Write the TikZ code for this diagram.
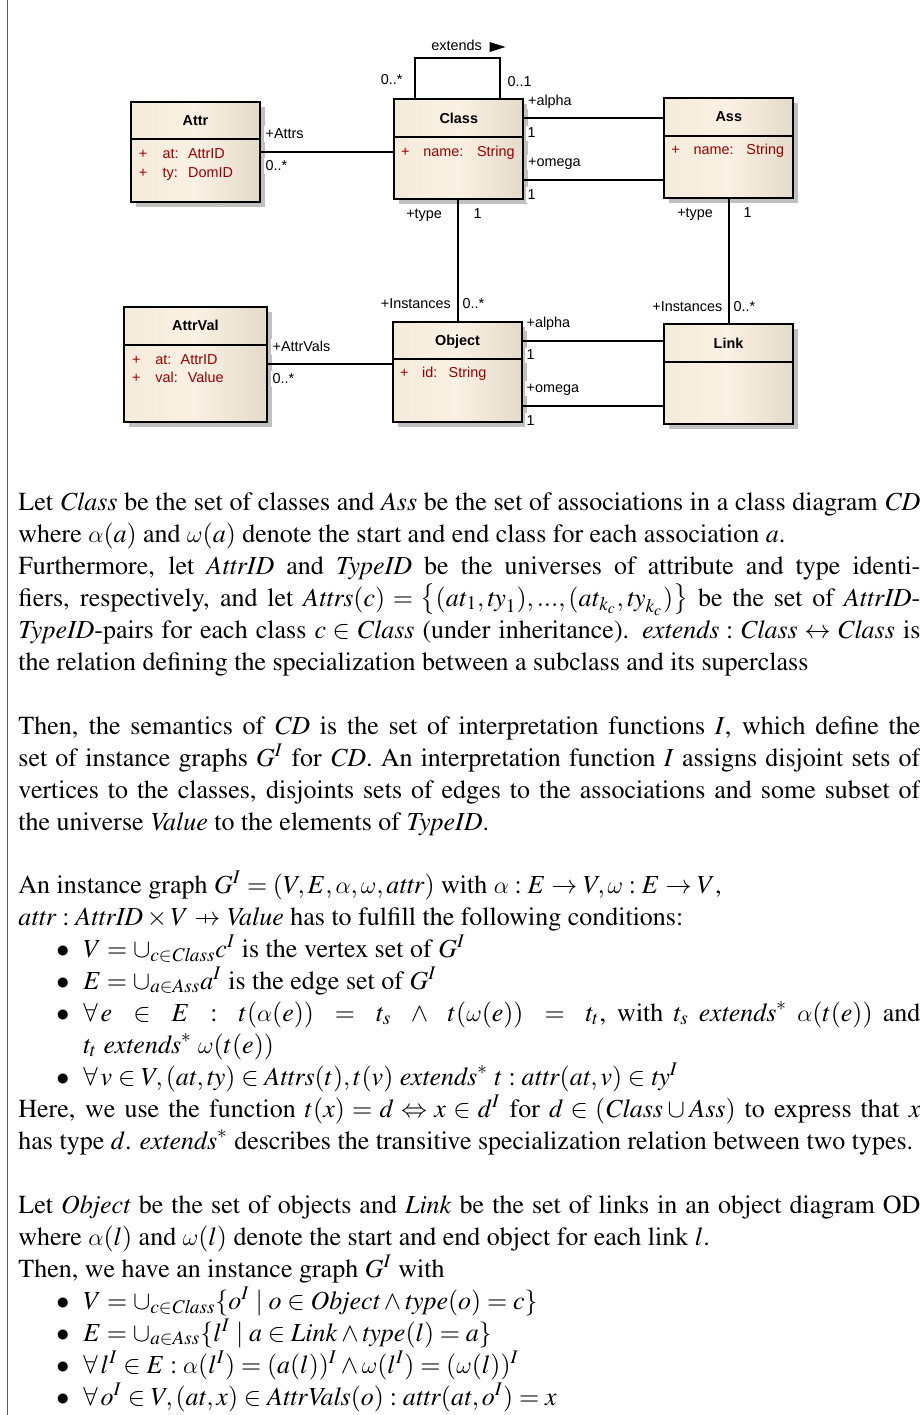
\documentclass[tikz,border=0pt]{standalone}
\usepackage[no-math]{fontspec}
\newfontfamily\umlfont{Liberation Sans}
\usepackage[T1]{fontenc}
\usepackage{mathptmx}
\usetikzlibrary{shadows}

\DeclareSymbolFont{cmletters}{OML}{cmm}{m}{it}
\DeclareMathSymbol{\alpha}{\mathord}{cmletters}{"0B}
\DeclareMathSymbol{\omega}{\mathord}{cmletters}{"21}

\definecolor{umlleft}{RGB}{245,235,219}
\definecolor{umlmid}{RGB}{250,241,228}
\definecolor{umlright}{RGB}{228,218,202}
\definecolor{umlred}{RGB}{153,0,0}
\definecolor{umlshadow}{RGB}{192,192,192}
\definecolor{bordergray}{RGB}{90,90,90}

\newlength\upx
\setlength\upx{0.5pt}
\newcommand\umlsize{\umlfont\fontsize{7.2}{8.6}\selectfont}
\newcommand\uattr[4]{\makebox[#1\upx][l]{+}\makebox[#2\upx][l]{#3}#4}
\newcommand\bitem{\par\hangindent=32.5pt\hangafter=0\noindent\llap{$\bullet$\hspace{7pt}}}
\newcommand\pfun{\mathrel{\ooalign{\hfil$\mapstochar\mkern5mu$\hfil\cr$\rightarrow$\cr}}}

\begin{document}
\begin{tikzpicture}[x=0.5pt, y=-0.5pt,
	umlbox/.style={draw, line width=1pt, inner sep=0, minimum width=64.5pt, minimum height=50pt,
		left color=umlleft, right color=umlright, middle color=umlmid,
		drop shadow={shadow xshift=2.5pt, shadow yshift=-2.5pt, fill=umlshadow, opacity=1}},
	umlline/.style={line width=1pt},
	umlname/.style={font=\umlsize\bfseries, inner sep=0, text height=5.4pt, text depth=0pt},
	umlattr/.style={anchor=west, font=\umlsize, text=umlred, inner sep=0, text height=5.4pt, text depth=0pt},
	umllabel/.style={font=\umlsize, inner sep=0.6pt, fill=white, text height=5.4pt, text depth=1.3pt},
	para/.style={anchor=base west, text width=451pt, align=justify, inner sep=0, font=\fontsize{13}{16}\selectfont}
]
\useasboundingbox (0, 0) rectangle (920, 1415);
\draw[bordergray, line width=0.8pt] (7.5, 0) -- (7.5, 1415);

% CLASSES
\node[umlbox, anchor=north west](attr) at(130, 100.7) {};
\node[umlbox, anchor=north west](cls) at(393.3, 98.3) {};
\node[umlbox, anchor=north west](ass) at(663.3, 97) {};
\node[umlbox, anchor=north west, minimum width=71.65pt, minimum height=57.35pt](attrval) at(122.7, 306) {};
\node[umlbox, anchor=north west](obj) at(392, 320.7) {};
\node[umlbox, anchor=north west](lnk) at(663, 323.3) {};

\foreach \b/\lab in{attr/Attr,cls/Class,ass/Ass,attrval/AttrVal,obj/Object,lnk/Link}{
	\draw[umlline] ([yshift=-19.25pt]\b.north west) -- ([yshift=-19.25pt]\b.north east);
	\node[umlname](\b-n) at([yshift=-9.7pt]\b.north) {\lab};
}

% ATTRIBUTES
\node[umlattr](attr-a1) at(138.5, 153.5) {\uattr{23.8}{25.4}{at:}{AttrID}};
\node[umlattr](attr-a2) at(138.5, 172.3) {\uattr{23.8}{25.4}{ty:}{DomID}};
\node[umlattr](cls-a1) at(400.7, 151) {\uattr{22.3}{53.7}{name:}{String}};
\node[umlattr](ass-a1) at(671, 149.5) {\uattr{22.3}{52.7}{name:}{String}};
\node[umlattr](attrval-a1) at(131.7, 358.7) {\uattr{23.3}{25.3}{at:}{AttrID}};
\node[umlattr](attrval-a2) at(131.7, 377) {\uattr{23.3}{32.4}{val:}{Value}};
\node[umlattr](obj-a1) at(399.7, 372.3) {\uattr{22}{26.6}{id:}{String}};

% ASSOCIATIONS
\coordinate (ca) at([yshift=-9.85pt]cls.north east);
\coordinate (co) at([yshift=-40.85pt]cls.north east);
\coordinate (oa) at([yshift=-10pt]obj.north east);
\coordinate (oo) at([yshift=-42.8pt]obj.north east);

\draw[umlline] (attr.east) -- (attr.east -| cls.west);
\draw[umlline] (ca) -- (ca -| ass.west);
\draw[umlline] (co) -- (co -| ass.west);
\draw[umlline] ([xshift=10.7pt]cls.north west) -- ++(0, -40) -| ([xshift=-12.3pt]cls.north east);
\draw[umlline] (obj.north) -- (obj.north |- cls.south);
\draw[umlline] (lnk.north) -- (lnk.north |- ass.south);
\draw[umlline] (attrval.east) -- (attrval.east -| obj.west);
\draw[umlline] (oa) -- (oa -| lnk.west);
\draw[umlline] (oo) -- (oo -| lnk.west);

% ROLES
\node[umllabel, fill=none](ext) at(456.7, 46) {extends};
\fill ([shift={(6, -4)}]ext.east) -- ++(16, 5) -- ++(-16, 5) -- cycle;

\foreach \n/\x/\y/\lab in{
	attrs/264/134/+Attrs, attrsm/264/166/0..*, exto/506/82/0..1,
	calpha/526.5/101/+alpha, calpham/526/133.5/1, comega/526.5/162.5/+omega, comegam/526/195/1,
	ctypem/472/214/1, atypem/742/213/1, oinstm/461/304/0..*,
	attrvals/271/347/+AttrVals, attrvalsm/271/379/0..*,
	oalpha/525/323/+alpha, oalpham/525/355.5/1, oomega/525/388.5/+omega, oomegam/525/421/1,
	linstm/732/307/0..*%
}{
	\node[umllabel, anchor=west](\n) at(\x, \y) {\lab};
}

\foreach \n/\x/\y/\lab in{
	exts/404/80.5/0..*, ctype/443.5/214/+type, atype/714.5/213/+type,
	oinst/452.5/304/+Instances, linst/724/307/+Instances%
}{
	\node[umllabel, anchor=east](\n) at(\x, \y) {\lab};
}

% TEXT
\node[para](p1) at(18, 510) {Let \textit{Class} be the set of classes and \textit{Ass} be the set of associations in a class diagram \textit{CD}\linebreak
where $\alpha(a)$ and $\omega(a)$ denote the start and end class for each association $a$.\par
Furthermore, let \textit{AttrID} and \textit{TypeID} be the universes of attribute and type identi-\linebreak
fiers, respectively, and let $\mathit{Attrs}(c) = \left\{(\mathit{at}_1,\mathit{ty}_1),...,(\mathit{at}_{k_c},\mathit{ty}_{k_c})\right\}$ be the set of \textit{AttrID}-\linebreak
\textit{TypeID}-pairs for each class $c \in \mathit{Class}$ (under inheritance). $\mathit{extends} : \mathit{Class} \leftrightarrow \mathit{Class}$ is\linebreak
the relation defining the specialization between a subclass and its superclass\par};

\node[para](p2) at(18, 734) {Then, the semantics of \textit{CD} is the set of interpretation functions $I$, which define the\linebreak
set of instance graphs $G^I$ for \textit{CD}. An interpretation function $I$ assigns disjoint sets of\linebreak
vertices to the classes, disjoints sets of edges to the associations and some subset of\linebreak
the universe \textit{Value} to the elements of \textit{TypeID}.\par};

\node[para](p3) at(18, 893) {An instance graph $G^I = (V,E,\alpha,\omega,\mathit{attr})$ with $\alpha : E \rightarrow V, \omega : E \rightarrow V$,\par
$\mathit{attr} : \mathit{AttrID} \times V \pfun \mathit{Value}$ has to fulfill the following conditions:
\bitem $V = \cup_{c \in \mathit{Class}} c^I$ is the vertex set of $G^I$
\bitem $E = \cup_{a \in \mathit{Ass}} a^I$ is the edge set of $G^I$
\bitem {\thickmuskip=5mu plus 10mu\medmuskip=4mu plus 10mu
$\forall\,e \in E : t(\alpha(e)) = t_s \wedge t(\omega(e)) = t_t$}, with $t_s$ $\mathit{extends}^*$ $\alpha(t(e))$ and\linebreak
$t_t$ $\mathit{extends}^*$ $\omega(t(e))$
\bitem $\forall\, v \in V, (\mathit{at},\mathit{ty}) \in \mathit{Attrs}(t), t(v)$ $\mathit{extends}^*$ $t : \mathit{attr}(\mathit{at},v) \in \mathit{ty}^I$\par
Here, we use the function $t(x) = d \Leftrightarrow x \in d^I$ for $d \in (\mathit{Class} \cup \mathit{Ass})$ to express that $x$\linebreak
has type $d$. $\mathit{extends}^*$ describes the transitive specialization relation between two types.\par};

\node[para](p4) at(18, 1213) {Let \textit{Object} be the set of objects and \textit{Link} be the set of links in an object diagram OD\linebreak
where $\alpha(l)$ and $\omega(l)$ denote the start and end object for each link $l$.\par
Then, we have an instance graph $G^I$ with
\bitem $V = \cup_{c \in \mathit{Class}} \{o^I \mid o \in \mathit{Object} \wedge \mathit{type}(o) = c\}$
\bitem $E = \cup_{a \in \mathit{Ass}} \{l^I \mid a \in \mathit{Link} \wedge \mathit{type}(l) = a\}$
\bitem $\forall\, l^I \in E : \alpha(l^I) = (a(l))^I \wedge \omega(l^I) = (\omega(l))^I$
\bitem $\forall\, o^I \in V, (\mathit{at},x) \in \mathit{AttrVals}(o) : \mathit{attr}(\mathit{at},o^I) = x$\par};

\end{tikzpicture}
\end{document}
